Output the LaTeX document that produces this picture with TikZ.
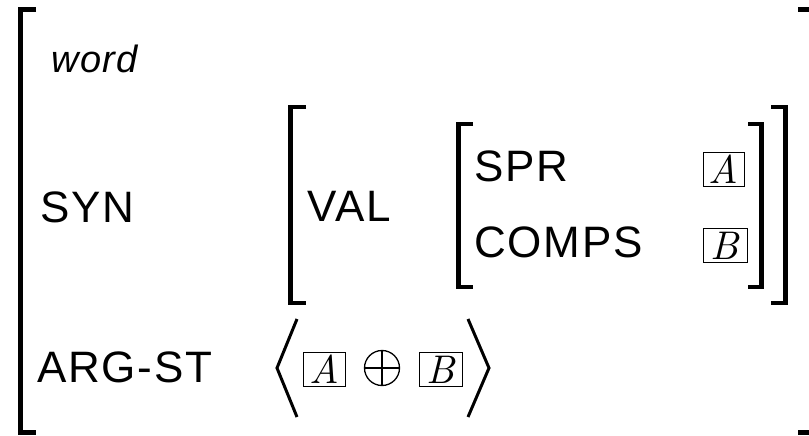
\documentclass[tikz,border=0pt]{standalone}
\usepackage{fontspec}
\setsansfont{Liberation Sans}[LetterSpace=4]
\newfontfamily\tagfont{lmroman10-italic}[Extension=.otf]
\begin{document}
\begin{tikzpicture}[x=1pt,y=-1pt,
  brk/.style={line width=4.2pt, line cap=butt, line join=miter},
  lbl/.style={anchor=base west, inner sep=0pt, font=\sffamily\fontsize{44}{50}\selectfont},
  tag/.style={draw, line width=0.8pt, inner sep=0pt, minimum height=34pt,
    font=\tagfont\fontsize{40}{42}\selectfont},
  ang/.style={line width=3pt, line join=miter}]
\useasboundingbox (0,0) rectangle (809,436);
\clip (0,0) rectangle (809,436);
% outer bracket
\draw[brk] (36,9.5) -- (20.5,9.5) -- (20.5,432.5) -- (36,432.5);
\draw[brk] (798,9.5) -- (812,9.5) -- (812,432.5) -- (798,432.5);
% VAL bracket
\draw[brk] (306,107) -- (290.5,107) -- (290.5,303) -- (306,303);
\draw[brk] (771,107) -- (785.5,107) -- (785.5,303) -- (771,303);
% inner bracket
\draw[brk] (473,124) -- (458.5,124) -- (458.5,287) -- (473,287);
\draw[brk] (748,124) -- (761.5,124) -- (761.5,287) -- (748,287);
% labels
\node[anchor=base west, inner sep=0pt, font=\sffamily\itshape\fontsize{38}{44}\selectfont] (word) at (51,73) {word};
\node[lbl] (syn) at (40,222) {SYN};
\node[lbl] (val) at (307,221) {VAL};
\node[lbl] (spr) at (474,181) {SPR};
\node[lbl] (comps) at (474,257) {COMPS};
\node[lbl] (argst) at (37,382) {ARG-ST};
% tags
\node[tag, minimum width=41pt] (a1) at (723.5,169) {A};
\node[tag, minimum width=44pt] (b1) at (725,245.5) {B};
\node[tag, minimum width=42pt] (a2) at (324,369.5) {A};
\node[tag, minimum width=43pt] (b2) at (440.5,369.5) {B};
% oplus
\node[draw, circle, line width=1.3pt, minimum size=35pt, inner sep=0pt] (op) at (382,368) {};
\draw[line width=1.3pt] (op.north) -- (op.south) (op.west) -- (op.east);
% angle brackets
\draw[ang] (297,319) -- (277,368) -- (297,417);
\draw[ang] (468,319) -- (489,368) -- (468,417);
\end{tikzpicture}
\end{document}
